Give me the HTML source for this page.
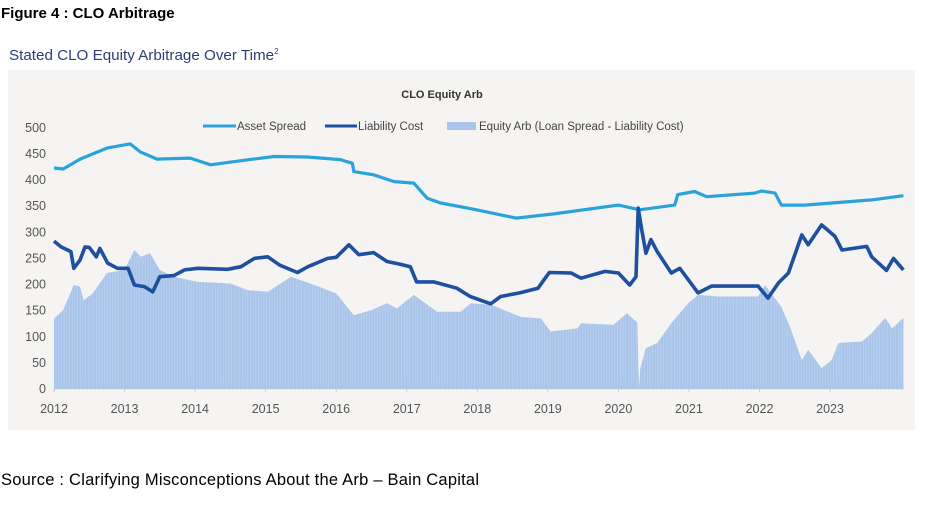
<!DOCTYPE html>
<html><head><meta charset="utf-8">
<style>
body{margin:0;background:#fff;width:940px;height:510px;overflow:hidden;font-family:"Liberation Sans",sans-serif}
svg{position:absolute;left:0;top:0}
</style></head>
<body>
<svg id="chart" width="940" height="510" viewBox="0 0 940 510">
  <text x="1" y="18" font-size="15" font-weight="bold" fill="#000">Figure 4 : CLO Arbitrage</text>
  <text x="9" y="60" font-size="15.2" fill="#2e3d78">Stated CLO Equity Arbitrage Over Time<tspan font-size="8" dy="-6">2</tspan></text>
  <rect x="8" y="70" width="907" height="360" fill="#f5f4f2"/>
  <text x="442" y="98" font-size="11" font-weight="bold" fill="#333" text-anchor="middle">CLO Equity Arb</text>
  <g font-size="11.5" fill="#444">
    <g><line x1="203" y1="126" x2="236" y2="126" stroke="#2aa3dd" stroke-width="3"/><text x="237" y="130">Asset Spread</text></g>
    <g><line x1="325" y1="126" x2="357" y2="126" stroke="#1f4f9f" stroke-width="3"/><text x="358" y="130">Liability Cost</text></g>
    <g><rect x="447" y="122" width="29" height="8" fill="#a9c5ea"/><text x="479" y="130">Equity Arb (Loan Spread - Liability Cost)</text></g>
  </g>
  <g id="axes"></g>
  <g id="plot"></g>
  <text x="1" y="485" font-size="16.5" fill="#000" textLength="478">Source :  Clarifying Misconceptions About the Arb – Bain Capital</text>
</svg>
<script>
const yTicks=[0,50,100,150,200,250,300,350,400,450,500];
const xTicks=[2012,2013,2014,2015,2016,2017,2018,2019,2020,2021,2022,2023];
const assetYears=[2012.0,2012.13,2012.37,2012.75,2013.08,2013.22,2013.46,2013.93,2014.22,2014.65,2015.12,2015.59,2016.06,2016.23,2016.25,2016.53,2016.82,2017.1,2017.29,2017.48,2017.91,2018.55,2019.07,2020.0,2020.3,2020.8,2020.84,2021.08,2021.25,2021.93,2022.03,2022.22,2022.31,2022.64,2023.59,2024.04];
const assetVals=[423,421,440,461,469,454,440,442,429,437,445,444,439,432,416,410,397,394,365,356,345,327,335,352,343,352,372,378,368,375,379,375,352,352,362,370];
const liabYears=[2012.0,2012.1,2012.24,2012.28,2012.37,2012.44,2012.5,2012.6,2012.65,2012.76,2012.9,2013.05,2013.14,2013.28,2013.4,2013.5,2013.7,2013.85,2014.04,2014.46,2014.65,2014.84,2015.03,2015.2,2015.45,2015.6,2015.88,2016.0,2016.18,2016.32,2016.53,2016.72,2016.9,2017.05,2017.14,2017.38,2017.71,2017.9,2018.19,2018.33,2018.6,2018.86,2019.02,2019.33,2019.47,2019.81,2020.0,2020.16,2020.25,2020.28,2020.33,2020.39,2020.46,2020.55,2020.75,2020.87,2021.13,2021.32,2021.98,2022.12,2022.27,2022.41,2022.6,2022.69,2022.88,2023.07,2023.17,2023.52,2023.59,2023.8,2023.9,2024.04];
const liabVals=[283,272,263,231,247,272,271,253,269,241,231,231,199,196,186,215,217,228,231,229,234,250,253,237,223,234,250,252,276,257,261,244,239,234,205,205,193,177,163,177,184,193,223,222,212,225,222,199,215,346,305,260,286,263,222,231,184,197,197,174,203,222,295,276,314,292,266,273,253,227,250,228];
const arbYears=[2012.0,2012.13,2012.28,2012.37,2012.42,2012.55,2012.75,2013.0,2013.14,2013.23,2013.36,2013.5,2013.7,2014.04,2014.5,2014.75,2015.03,2015.36,2015.69,2016.0,2016.25,2016.5,2016.72,2016.86,2017.1,2017.43,2017.76,2017.91,2018.2,2018.62,2018.9,2019.04,2019.42,2019.47,2019.93,2020.12,2020.27,2020.29,2020.31,2020.39,2020.55,2020.75,2020.99,2021.13,2021.41,2021.98,2022.08,2022.31,2022.45,2022.6,2022.69,2022.88,2023.02,2023.12,2023.45,2023.59,2023.78,2023.88,2024.04];
const arbVals=[135,151,199,196,170,183,222,228,266,253,260,228,215,205,202,189,186,215,199,183,141,151,164,154,180,148,148,164,161,138,135,110,116,126,123,145,127,0,40,78,88,126,164,180,177,177,199,157,113,55,75,40,55,88,91,107,136,116,136];

const X0=54,PX=70.55,Y0=389,PY=0.5225;
const xs=t=>X0+(t-2012)*PX;
const ys=v=>Y0-v*PY;
const NS="http://www.w3.org/2000/svg";
const axes=document.getElementById('axes'),plot=document.getElementById('plot');
function mk(tag,attrs,parent){const e=document.createElementNS(NS,tag);for(const k in attrs)e.setAttribute(k,attrs[k]);parent.appendChild(e);return e;}
yTicks.forEach(v=>{
  const t=mk('text',{x:46,y:ys(v)+4,'font-size':12.5,fill:'#555','text-anchor':'end'},axes);
  t.textContent=v;
  
  
});
xTicks.forEach(v=>{
  const t=mk('text',{x:xs(v),y:413,'font-size':12.5,fill:'#555','text-anchor':'middle'},axes);
  t.textContent=v;
  
  
  const l=mk('line',{x1:xs(v),y1:Y0,x2:xs(v),y2:Y0+3,stroke:'#ccc'},axes);
  
  
});
const ax=mk('line',{x1:X0,y1:Y0,x2:905,y2:Y0,stroke:'#ddd'},axes);


let d='M'+xs(arbYears[0])+','+Y0;
arbYears.forEach((t,i)=>{d+=' L'+xs(t).toFixed(1)+','+ys(arbVals[i]).toFixed(1);});
d+=' L'+xs(arbYears[arbYears.length-1])+','+Y0+' Z';
const area=mk('path',{d:d,fill:'#a9c5ea'},plot);


const st=mk('g',{stroke:'#c4d7f0','stroke-width':0.6,opacity:0.8},plot);


for(let x=xs(arbYears[0])+2;x<xs(arbYears[arbYears.length-1]);x+=2.7){mk('line',{x1:x,y1:150,x2:x,y2:Y0},st);}
const defs=mk('defs',{},document.getElementById('chart'));
const cp=mk('clipPath',{id:'ac'},defs);mk('path',{d:d},cp);
st.setAttribute('clip-path','url(#ac)');
function line(yrs,vals,color,name,w){
  const p=yrs.map((t,i)=>xs(t).toFixed(1)+','+ys(vals[i]).toFixed(1)).join(' ');
  const e=mk('polyline',{points:p,fill:'none',stroke:color,'stroke-width':w,'stroke-linejoin':'round'},plot);
  
  
}
line(assetYears,assetVals,'#2aa3dd','asset-spread-line',3.2);
line(liabYears,liabVals,'#1f4f9f','liability-cost-line',3.6);
</script>
</body></html>
